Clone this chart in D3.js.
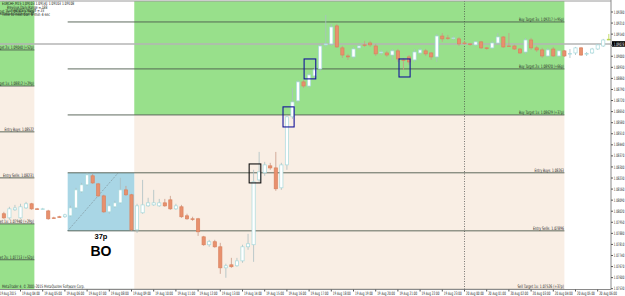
<!DOCTYPE html>
<html>
<head>
<meta charset="utf-8">
<script src="https://cdn.jsdelivr.net/npm/d3@7"></script>
<style>
  body { margin: 0; background: #fff; }
  svg { display: block; font-family: "DejaVu Sans", sans-serif; }
</style>
</head>
<body>
<div id="chart"></div>
<script>
// EURCHF M15 bars, 19 Aug 03:15 -> 20 Aug 06:30
const symbol = "EURCHF,M15";
const openP = [1.08004,1.07978,1.08029,1.07978,1.08041,1.08067,1.08035,1.08033,1.08022,1.07978,
  1.07985,1.07985,1.07991,1.08041,1.08143,1.08187,1.08244,1.08193,1.08117,1.08016,
  1.08048,1.08073,1.08155,1.08124,1.07902,1.08010,1.08054,1.08060,1.08054,1.08073,
  1.08092,1.08035,1.08048,1.07991,1.07972,1.07972,1.07858,1.07808,1.07827,1.07795,
  1.07662,1.07681,1.07675,1.07706,1.07795,1.07808,1.08218,1.08263,1.08307,1.08294,
  1.08168,1.08313,1.08617,1.08718,1.08838,1.08812,1.08876,1.08920,1.09072,1.09078,
  1.09192,1.09053,1.09002,1.08996,1.09053,1.09072,1.09084,1.09065,1.09021,1.09021,
  1.09008,1.09034,1.08977,1.08996,1.08977,1.09021,1.09034,1.09021,1.08996,1.09128,
  1.09116,1.09114,1.09110,1.09084,1.09078,1.09072,1.09091,1.09053,1.09053,1.09084,
  1.09122,1.09065,1.09065,1.09046,1.09027,1.09103,1.09053,1.09040,1.09002,1.09046,
  1.09002,1.09034,1.09015,1.09021,1.09053,1.09015,1.09021,1.09046,1.09065,1.09103];
const highP = [1.08016,1.08048,1.08060,1.08067,1.08079,1.08073,1.08041,1.08041,1.08029,1.07985,
  1.07991,1.08004,1.08054,1.08168,1.08199,1.08263,1.08256,1.08199,1.08124,1.08067,
  1.08086,1.08231,1.08180,1.08130,1.08067,1.08218,1.08105,1.08155,1.08098,1.08098,
  1.08117,1.08067,1.08060,1.08004,1.07985,1.07978,1.07864,1.07839,1.07839,1.07820,
  1.07688,1.07725,1.07725,1.07808,1.07877,1.08282,1.08395,1.08332,1.08326,1.08395,
  1.08326,1.08629,1.08800,1.08850,1.08850,1.08895,1.08933,1.09078,1.09261,1.09204,
  1.09204,1.09065,1.09015,1.09059,1.09078,1.09097,1.09097,1.09078,1.09040,1.09034,
  1.09046,1.09046,1.08989,1.09008,1.09046,1.09053,1.09046,1.09027,1.09141,1.09147,
  1.09135,1.09128,1.09122,1.09097,1.09084,1.09097,1.09097,1.09059,1.09097,1.09147,
  1.09128,1.09147,1.09072,1.09053,1.09116,1.09116,1.09065,1.09053,1.09053,1.09059,
  1.09040,1.09040,1.09046,1.09059,1.09059,1.09027,1.09053,1.09078,1.09110,1.09141];
const lowP = [1.07972,1.07966,1.08022,1.07972,1.08035,1.08029,1.08029,1.08029,1.07966,1.07972,
  1.07978,1.07978,1.07985,1.08035,1.08136,1.08180,1.08193,1.08111,1.08010,1.08004,
  1.08041,1.08067,1.08117,1.07896,1.07883,1.08004,1.08048,1.08054,1.08048,1.08048,
  1.08029,1.08029,1.07978,1.07966,1.07959,1.07864,1.07801,1.07795,1.07789,1.07624,
  1.07599,1.07662,1.07669,1.07694,1.07776,1.07700,1.08206,1.08244,1.08282,1.08149,
  1.08155,1.08282,1.08604,1.08705,1.08800,1.08800,1.08850,1.08907,1.09059,1.09065,
  1.09053,1.08989,1.08977,1.08983,1.09040,1.09059,1.09059,1.09002,1.09008,1.08996,
  1.08977,1.08964,1.08914,1.08945,1.08964,1.09008,1.09002,1.08977,1.08964,1.09091,
  1.09103,1.09103,1.09065,1.09072,1.09065,1.09065,1.09046,1.09040,1.09046,1.09078,
  1.09053,1.09059,1.09040,1.09015,1.09015,1.09040,1.09027,1.08989,1.08996,1.08996,
  1.08996,1.08996,1.08989,1.09008,1.09002,1.09002,1.09015,1.09040,1.09059,1.09103];
const closeP = [1.07978,1.08035,1.08041,1.08048,1.08067,1.08035,1.08033,1.08035,1.07972,1.07976,
  1.07983,1.07997,1.08041,1.08155,1.08187,1.08250,1.08199,1.08117,1.08016,1.08054,
  1.08073,1.08155,1.08124,1.07902,1.08054,1.08060,1.08073,1.08073,1.08073,1.08054,
  1.08035,1.08054,1.07985,1.07972,1.07970,1.07890,1.07808,1.07827,1.07795,1.07662,
  1.07675,1.07669,1.07706,1.07795,1.07814,1.08206,1.08269,1.08313,1.08294,1.08162,
  1.08313,1.08617,1.08711,1.08838,1.08812,1.08882,1.08914,1.09065,1.09078,1.09185,
  1.09059,1.09008,1.08996,1.09046,1.09065,1.09070,1.09072,1.09015,1.09027,1.09008,
  1.09034,1.08983,1.08975,1.08964,1.09027,1.09040,1.09015,1.08996,1.09128,1.09110,
  1.09114,1.09116,1.09078,1.09082,1.09076,1.09091,1.09053,1.09051,1.09084,1.09122,
  1.09059,1.09063,1.09046,1.09021,1.09103,1.09053,1.09040,1.09002,1.09040,1.09002,
  1.09034,1.09002,1.09017,1.09053,1.09008,1.09017,1.09046,1.09072,1.09103,1.09108];

const priceTicks = [1.09280,1.09210,1.09140,1.09070,1.09000,1.08930,1.08860,1.08790,1.08720,1.08650,
  1.08580,1.08510,1.08440,1.08370,1.08300,1.08230,1.08160,1.08090,1.08020,1.07950,
  1.07880,1.07810,1.07740,1.07670,1.07600,1.07530];
const timeLabels = ["19 Aug 2015","19 Aug 04:00","19 Aug 05:00","19 Aug 06:00","19 Aug 07:00","19 Aug 08:00",
  "19 Aug 09:00","19 Aug 10:00","19 Aug 11:00","19 Aug 12:00","19 Aug 13:00","19 Aug 14:00","19 Aug 15:00",
  "19 Aug 16:00","19 Aug 17:00","19 Aug 18:00","19 Aug 19:00","19 Aug 20:00","19 Aug 21:00","19 Aug 22:00",
  "19 Aug 23:00","20 Aug 00:00","20 Aug 01:00","20 Aug 02:00","20 Aug 03:00","20 Aug 04:00","20 Aug 05:00",
  "20 Aug 06:00"];
const bidPrice = 1.09078;

// breakout levels: previous session (left) and current session
const levelNames = ["Buy Target 3x","Buy Target 2x","Buy Target 1x","Entry Buys","Entry Sells","Sell Target 1x","Sell Target 2x"];
const prevLevels = [1.09267,1.09040,1.08812,1.08522,1.08231,1.07940,1.07713];
const prevPips = [75,52,29,null,null,29,52];
const curLevels = [1.09217,1.08920,1.08629,1.08263,1.07896,1.07526];
const curPips = [95,66,37,null,null,37];

// user drawn rectangles: [barFrom, barTo, priceTop, priceBottom, colour]
const marks = [
  [44.2, 46.3, 1.08319, 1.08199, "#111"],
  [50.3, 52.3, 1.08680, 1.08553, "#14149a"],
  [54.1, 56.2, 1.08983, 1.08857, "#14149a"],
  [71.2, 73.2, 1.08983, 1.08869, "#14149a"]
];

const width = 625, height = 296;
const plotR = 611, plotT = 1, plotB = 289.5;
const green = "#98e08b", peach = "#f9eee4";

const x = d3.scaleLinear().domain([0, 109]).range([3.85, 608.8]);
const y = d3.scaleLinear().domain([1.07530, 1.09280]).range([288.7, 12]);

// tiny MT4 text, squeezed to the width it has in the screenshot
const small = (sel, perChar) => sel
  .attr("font-size", 4.6)
  .attr("textLength", function () { return this.textContent.length * perChar; })
  .attr("lengthAdjust", "spacingAndGlyphs");

const svg = d3.select("#chart").append("svg").attr("width", width).attr("height", height);
svg.append("defs").append("clipPath").attr("id", "plot")
  .append("rect").attr("x", 0).attr("y", plotT).attr("width", plotR).attr("height", plotB - plotT);

const g = svg.append("g").attr("clip-path", "url(#plot)");

// session zones
const zone = (x0, x1, lv, sellIdx) => {
  g.append("rect").attr("x", x0).attr("width", x1 - x0).attr("y", plotT)
    .attr("height", y(lv[2]) - plotT).attr("fill", green);
  g.append("rect").attr("x", x0).attr("width", x1 - x0).attr("y", y(lv[2]))
    .attr("height", y(lv[sellIdx]) - y(lv[2])).attr("fill", peach);
  g.append("rect").attr("x", x0).attr("width", x1 - x0).attr("y", y(lv[sellIdx]))
    .attr("height", plotB - y(lv[sellIdx]) + 2).attr("fill", green);
};
zone(0, x(5.5), prevLevels, 5);
zone(x(23.5), x(101), curLevels, 5);

// asian range box
g.append("rect").attr("x", x(11.5)).attr("width", x(23.5) - x(11.5))
  .attr("y", y(curLevels[3])).attr("height", y(curLevels[4]) - y(curLevels[3]))
  .attr("fill", "#a9d6e5");
g.append("line").attr("x1", x(11.5)).attr("y1", y(curLevels[4])).attr("x2", x(20.6)).attr("y2", y(curLevels[3]))
  .attr("stroke", "#7a8a90").attr("stroke-width", 0.8).attr("stroke-dasharray", "1,1.2");

// day separator
g.append("line").attr("x1", x(83)).attr("x2", x(83)).attr("y1", plotT).attr("y2", plotB)
  .attr("stroke", "#444").attr("stroke-width", 0.7).attr("stroke-dasharray", "1,1.5");

// level lines + labels
const levelText = (i, p, pips) => `${levelNames[i]}: ${p.toFixed(5)}` + (pips ? ` (+${pips}p)` : "");
const drawLevels = (x0, x1, lv, pips) => {
  lv.forEach((p, i) => {
    g.append("line").attr("x1", x0).attr("x2", x1).attr("y1", y(p)).attr("y2", y(p))
      .attr("stroke", "#4d5a4d").attr("stroke-width", 0.9);
    g.append("text").attr("x", x1 - 0.5).attr("y", y(p) - 1).attr("text-anchor", "end")
      .attr("fill", "#222").text(levelText(i, p, pips[i])).call(small, 1.55);
  });
};
drawLevels(0, x(5.5), prevLevels, prevPips);
drawLevels(x(11.5), x(101), curLevels, curPips);

// bid line
g.append("line").attr("x1", 0).attr("x2", plotR).attr("y1", y(bidPrice)).attr("y2", y(bidPrice))
  .attr("stroke", "#b4b4b4").attr("stroke-width", 1.4);

// candles
const bars = openP.map((o, i) => ({ i, o, h: highP[i], l: lowP[i], c: closeP[i] }));
const last = bars.length - 1;
const candle = g.selectAll("g.bar").data(bars).join("g").attr("class", "bar");
candle.append("line")
  .attr("x1", d => x(d.i)).attr("x2", d => x(d.i))
  .attr("y1", d => y(d.h)).attr("y2", d => y(d.l))
  .attr("stroke", d => d.i === last ? "#b8d44c" : (d.c < d.o ? "#c99a88" : "#a9bfc2")).attr("stroke-width", 0.8);
candle.append("rect")
  .attr("x", d => x(d.i) - 1.6).attr("width", 3.2)
  .attr("y", d => y(Math.max(d.o, d.c)))
  .attr("height", d => Math.max(0.6, Math.abs(y(d.o) - y(d.c))))
  .attr("fill", d => d.i === last ? "#b8d44c" : (d.c < d.o ? "#e8906d" : "#fff"))
  .attr("stroke", d => d.i === last ? "#b8d44c" : (d.c < d.o ? "#d9825f" : "#a6d9dc"))
  .attr("stroke-width", 0.7);

// annotation rectangles
g.selectAll("rect.mark").data(marks).join("rect").attr("class", "mark")
  .attr("x", d => x(d[0])).attr("width", d => x(d[1]) - x(d[0]))
  .attr("y", d => y(d[2])).attr("height", d => y(d[3]) - y(d[2]))
  .attr("fill", "none").attr("stroke", d => d[4]).attr("stroke-width", 1.1);

// range annotation
const boxMid = (x(11.5) + x(23.5)) / 2;
const rangePips = Math.round((curLevels[3] - curLevels[4]) * 10000);
svg.append("text").attr("x", boxMid).attr("y", y(curLevels[4]) + 8.5).attr("text-anchor", "middle")
  .attr("font-size", 7.5).attr("font-weight", "bold").attr("font-family", "Liberation Sans, Arial, sans-serif")
  .text(`${rangePips}p`);
svg.append("text").attr("x", boxMid).attr("y", y(curLevels[4]) + 25.5).attr("text-anchor", "middle")
  .attr("font-size", 14).attr("font-weight", "bold").attr("font-family", "Liberation Sans, Arial, sans-serif")
  .text("BO");

// header info
const lb = bars[last];
const info = [
  [2, 5, `${symbol} ${lb.o.toFixed(5)} ${lb.h.toFixed(5)} ${lb.l.toFixed(5)} ${lb.c.toFixed(5)}`, 1.72],
  [7, 8.8, "Previous Daily Range = 188", 1.55],
  [7, 12.4, "Current Daily Range = 23", 1.55],
  [2, 16.2, "Time to next bar:   8 min 4 sec", 1.55]
];
info.forEach(d => {
  svg.append("text").attr("x", d[0]).attr("y", d[1]).attr("fill", "#111").text(d[2]).call(small, d[3]);
});
svg.append("text").attr("x", 2).attr("y", 288).attr("fill", "#222")
  .text("MetaTrader 4, \u00a9 2001-2015 MetaQuotes Software Corp.").call(small, 1.62);

// frame
svg.append("line").attr("x1", 0).attr("x2", plotR).attr("y1", plotT).attr("y2", plotT).attr("stroke", "#9a9a9a");
svg.append("line").attr("x1", plotR).attr("x2", plotR).attr("y1", 0).attr("y2", plotB).attr("stroke", "#8a8a8a");
svg.append("line").attr("x1", 0).attr("x2", plotR).attr("y1", plotB).attr("y2", plotB).attr("stroke", "#8a8a8a");

// price axis
const yAxis = svg.append("g");
yAxis.append("rect").attr("x", plotR + 1).attr("y", y(bidPrice) - 2.8).attr("width", width - plotR - 1).attr("height", 5.6).attr("fill", "#000");
priceTicks.forEach(p => {
  yAxis.append("line").attr("x1", plotR).attr("x2", plotR + 2).attr("y1", y(p)).attr("y2", y(p)).attr("stroke", "#555");
  if (Math.abs(y(p) - y(bidPrice)) > 3)
    yAxis.append("text").attr("x", plotR + 2.8).attr("y", y(p) + 1.6).attr("fill", "#222").text(p.toFixed(5)).call(small, 1.5);
});
yAxis.append("text").attr("x", plotR + 2.8).attr("y", y(bidPrice) + 1.6).attr("fill", "#fff").text(bidPrice.toFixed(5)).call(small, 1.5);

// time axis
timeLabels.forEach((t, k) => {
  const tx = x(-1 + 4 * k);
  svg.append("line").attr("x1", tx).attr("x2", tx).attr("y1", plotB).attr("y2", plotB + 2).attr("stroke", "#555");
  svg.append("text").attr("x", tx + 1.5).attr("y", 294.5).attr("fill", "#222").text(t).call(small, 1.48);
});
</script>
</body>
</html>
